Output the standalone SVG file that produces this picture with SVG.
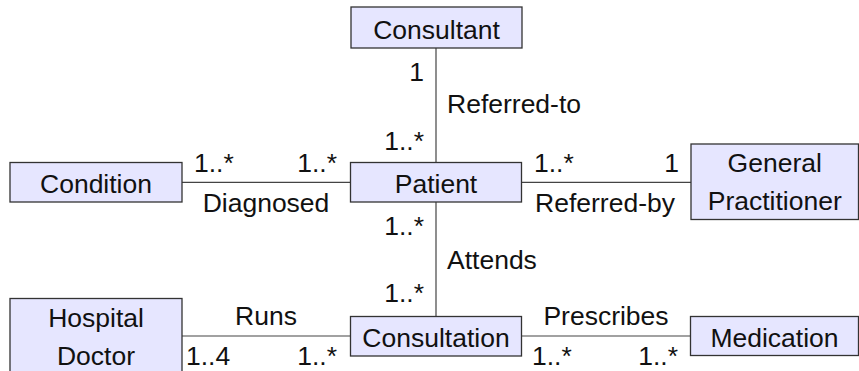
<svg xmlns="http://www.w3.org/2000/svg" width="859" height="371" viewBox="0 0 859 371">
<style>
  .box { fill: #E6E6FF; stroke: #333; stroke-width: 1.3; }
  .edge { fill: none; stroke: #444; stroke-width: 1.2; }
  text { font-family: "Liberation Sans", Arial, sans-serif; font-size: 26.5px; fill: #111; }
  .c { text-anchor: middle; }
  .e { text-anchor: end; }
  .s { text-anchor: start; }
</style>
<rect width="859" height="371" fill="#fff"/>
<g id="connectors">
  <path class="edge" d="M436 48 V162.5"/>
  <path class="edge" d="M436 202 V316.5"/>
  <path class="edge" d="M182 182.3 H350.5"/>
  <path class="edge" d="M521.5 182.3 H691"/>
  <path class="edge" d="M182 336 H350.5"/>
  <path class="edge" d="M521.5 336 H690.5"/>
  <text class="e" x="424" y="81">1</text>
  <text class="e" x="424" y="150">1..*</text>
  <text class="s" x="447" y="113">Referred-to</text>
  <text class="e" x="424" y="235">1..*</text>
  <text class="e" x="424" y="301.5">1..*</text>
  <text class="s" x="447" y="268.5">Attends</text>
  <text class="s" x="194" y="172">1..*</text>
  <text class="e" x="337" y="172">1..*</text>
  <text class="c" x="266" y="212">Diagnosed</text>
  <text class="s" x="534" y="172">1..*</text>
  <text class="e" x="679" y="172">1</text>
  <text class="c" x="605" y="212">Referred-by</text>
  <text class="c" x="266" y="325">Runs</text>
  <text class="s" x="186" y="365">1..4</text>
  <text class="e" x="337" y="365">1..*</text>
  <text class="c" x="606" y="325">Prescribes</text>
  <text class="s" x="532" y="365">1..*</text>
  <text class="e" x="678" y="365">1..*</text>
</g>
<g id="consultant">
  <rect class="box" x="351" y="7" width="171" height="41"/>
  <text class="c" x="436.5" y="38.5">Consultant</text>
</g>
<g id="condition">
  <rect class="box" x="10" y="162.5" width="172" height="39.5"/>
  <text class="c" x="96" y="192.5">Condition</text>
</g>
<g id="patient">
  <rect class="box" x="350.5" y="162.5" width="171" height="39.5"/>
  <text class="c" x="436" y="192.5">Patient</text>
</g>
<g id="general-practitioner">
  <rect class="box" x="691" y="144" width="167.5" height="75.5"/>
  <text class="c" x="774.75" y="172">General</text>
  <text class="c" x="774.75" y="210">Practitioner</text>
</g>
<g id="hospital-doctor">
  <rect class="box" x="10" y="298.5" width="172" height="75.5"/>
  <text class="c" x="96" y="327">Hospital</text>
  <text class="c" x="96" y="365">Doctor</text>
</g>
<g id="consultation">
  <rect class="box" x="350.5" y="316.5" width="171" height="39.5"/>
  <text class="c" x="436" y="346.5">Consultation</text>
</g>
<g id="medication">
  <rect class="box" x="690.5" y="316.5" width="168" height="39"/>
  <text class="c" x="774.5" y="346.5">Medication</text>
</g>
</svg>
